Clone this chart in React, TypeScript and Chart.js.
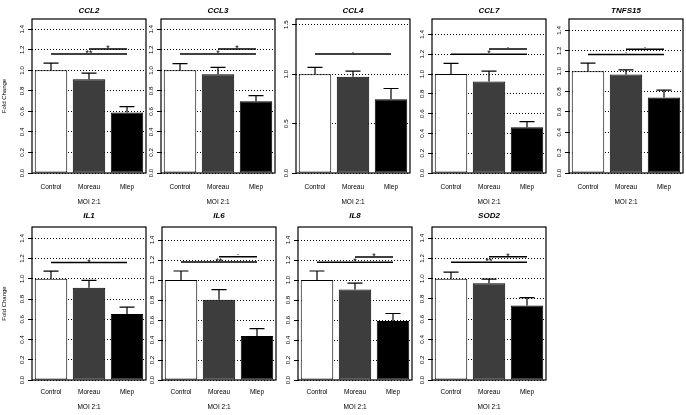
import React, { useEffect, useRef } from "react";
import { Chart, registerables } from "chart.js";

Chart.register(...registerables);
Chart.defaults.font.family = '"Liberation Sans", Arial, sans-serif';
Chart.defaults.color = "#000";

// ---------- data ----------
const genes = ["CCL2", "CCL3", "CCL4", "CCL7", "TNFS15", "IL1", "IL6", "IL8", "SOD2"];
const categories = ["Control", "Moreau", "Mlep"];
const controlMean = [1.0, 1.0, 1.0, 1.0, 1.0, 1.0, 1.0, 1.0, 1.0];
const moreauMean = [0.914, 0.963, 0.973, 0.924, 0.967, 0.911, 0.803, 0.905, 0.956];
const mlepMean = [0.589, 0.699, 0.747, 0.462, 0.741, 0.652, 0.44, 0.589, 0.736];
const controlSE = [0.07, 0.065, 0.068, 0.107, 0.079, 0.075, 0.09, 0.09, 0.065];
const moreauSE = [0.058, 0.065, 0.057, 0.106, 0.046, 0.073, 0.1, 0.063, 0.04];
const mlepSE = [0.058, 0.055, 0.108, 0.058, 0.072, 0.069, 0.073, 0.076, 0.076];
const yMax = [1.5, 1.5, 1.558, 1.556, 1.512, 1.512, 1.53, 1.53, 1.51];
const yStep = [0.2, 0.2, 0.5, 0.2, 0.2, 0.2, 0.2, 0.2, 0.2];
// Control vs Mlep comparison (height, label)
const sigCtrlY = [1.158, 1.158, 1.203, 1.2, 1.164, 1.161, 1.18, 1.177, 1.163];
const sigCtrlLabel = ["**", "*", ".", "*", ".", "*", "**", "*", "**"];
// Moreau vs Mlep comparison (height, label)
const sigMorY = [1.207, 1.207, null, 1.252, 1.216, null, 1.233, 1.23, 1.216];
const sigMorLabel = ["*", "*", "", ".", ".", "", ".", "*", "*"];
const xTitle = "MOI 2:1";
const yTitle = "Fold Change";

// ---------- layout ----------
const PANEL_LEFT = [32, 161, 296, 432, 569, 32, 162, 298, 432];
const PANEL_W = 114;
const RIGHT_PAD = 4;
const ROWS = [
  { top: 0, height: 208, areaTop: 19, areaBottom: 173, titleY: 10.3, labelY: 187.3, moiY: 202 },
  { top: 207, height: 208, areaTop: 227, areaBottom: 380, titleY: 216.2, labelY: 392.3, moiY: 407 },
];
const BAR_COLORS = ["#ffffff", "#3d3d3d", "#000000"];
const CAP = 7.5;
const TICK_FONT = 6.2;
const NAME_FONT = 6.5;
const MOI_FONT = 6.5;
const YTITLE_FONT = 6;

function Panel({ idx }: { idx: number }) {
  const ref = useRef<HTMLCanvasElement>(null);
  const row = idx < 5 ? ROWS[0] : ROWS[1];
  const firstCol = idx === 0 || idx === 5;
  const axisW = firstCol ? 32 : 22;
  const left = PANEL_LEFT[idx] - axisW;
  const width = axisW + PANEL_W + RIGHT_PAD;
  const height = row.height;

  useEffect(() => {
    if (!ref.current) return;
    const means = [controlMean[idx], moreauMean[idx], mlepMean[idx]];
    const ses = [controlSE[idx], moreauSE[idx], mlepSE[idx]];
    const xAxisH = row.top + row.height - row.areaBottom;
    const labelPad = row.labelY - row.areaBottom - (NAME_FONT * 1.2) / 2;
    const moiPad = row.top + row.height - row.moiY - (MOI_FONT * 1.2) / 2;

    const drawSig = (ctx: CanvasRenderingContext2D, x: any, y: any, a: number, b: number, v: number, label: string) => {
      const x0 = x.getPixelForValue(a);
      const x1 = x.getPixelForValue(b);
      const py = y.getPixelForValue(v);
      ctx.lineWidth = 1.5;
      ctx.beginPath();
      ctx.moveTo(x0, py);
      ctx.lineTo(x1, py);
      ctx.stroke();
      ctx.font = '9px "Liberation Sans", Arial, sans-serif';
      ctx.textAlign = "center";
      ctx.textBaseline = "alphabetic";
      const m = ctx.measureText(label);
      const asc = m.actualBoundingBoxAscent;
      const desc = m.actualBoundingBoxDescent;
      const center = py - 2;
      ctx.fillText(label, (x0 + x1) / 2, center + (asc - desc) / 2);
    };

    const decor = {
      id: "decor",
      afterDatasetsDraw(chart: any) {
        const { ctx, chartArea: a, scales } = chart;
        const x = scales.x;
        const y = scales.y;
        ctx.save();
        ctx.strokeStyle = "#000";
        ctx.fillStyle = "#000";
        // error bars
        ctx.lineWidth = 1.2;
        means.forEach((m, i) => {
          const px = x.getPixelForValue(i);
          const y0 = y.getPixelForValue(m);
          const y1 = y.getPixelForValue(m + ses[i]);
          ctx.beginPath();
          ctx.moveTo(px, y0);
          ctx.lineTo(px, y1);
          ctx.moveTo(px - CAP, y1);
          ctx.lineTo(px + CAP, y1);
          ctx.stroke();
        });
        // frame
        ctx.lineWidth = 1.2;
        ctx.strokeRect(a.left, a.top, a.right - a.left, a.bottom - a.top);
        // significance lines
        drawSig(ctx, x, y, 0, 2, sigCtrlY[idx], sigCtrlLabel[idx]);
        const my = sigMorY[idx];
        if (my !== null) drawSig(ctx, x, y, 1, 2, my, sigMorLabel[idx]);
        // panel title
        ctx.font = 'italic bold 8px "Liberation Sans", Arial, sans-serif';
        ctx.textAlign = "center";
        ctx.textBaseline = "middle";
        ctx.fillText(genes[idx], (a.left + a.right) / 2, row.titleY - row.top);
        ctx.restore();
      },
    };

    const chart = new Chart(ref.current, {
      type: "bar",
      data: {
        labels: categories,
        datasets: [
          {
            data: means,
            backgroundColor: BAR_COLORS,
            borderColor: "#000",
            borderWidth: 1,
            borderSkipped: false,
            barPercentage: 0.855,
            categoryPercentage: 1,
          },
        ],
      },
      options: {
        responsive: false,
        maintainAspectRatio: false,
        animation: false,
        devicePixelRatio: 1,
        events: [],
        layout: { padding: { top: row.areaTop - row.top, right: RIGHT_PAD, bottom: 0, left: 0 } },
        plugins: {
          legend: { display: false },
          tooltip: { enabled: false },
          title: { display: false },
        },
        scales: {
          x: {
            type: "category",
            offset: true,
            grid: { display: false, drawTicks: false },
            border: { display: false },
            ticks: {
              font: { size: NAME_FONT },
              color: "#000",
              padding: labelPad,
              maxRotation: 0,
              autoSkip: false,
            },
            title: {
              display: true,
              text: xTitle,
              font: { size: MOI_FONT },
              color: "#000",
              padding: { top: 0, bottom: moiPad },
            },
            afterFit: (s: any) => {
              s.height = xAxisH;
            },
          },
          y: {
            type: "linear",
            min: 0,
            max: yMax[idx],
            grid: {
              color: "#000",
              lineWidth: 1,
              borderDash: [1, 2],
              drawTicks: true,
              tickLength: 4,
              tickColor: "#000",
              tickWidth: 1,
              tickBorderDash: [],
            },
            border: { display: false, dash: [1, 2] },
            ticks: {
              stepSize: yStep[idx],
              includeBounds: false,
              font: { size: TICK_FONT },
              color: "#000",
              minRotation: 90,
              maxRotation: 90,
              crossAlign: "center",
              padding: 1.5,
              callback: (v: any) => Number(v).toFixed(1),
            },
            title: {
              display: firstCol,
              text: yTitle,
              font: { size: YTITLE_FONT },
              color: "#000",
              padding: { top: 1, bottom: 0 },
            },
            afterFit: (s: any) => {
              s.width = axisW;
            },
          },
        },
      },
      plugins: [decor],
    } as any);
    return () => chart.destroy();
  }, []);

  return (
    <canvas
      ref={ref}
      width={width}
      height={height}
      style={{ position: "absolute", left, top: row.top, width, height }}
    />
  );
}

export default function App() {
  return (
    <div
      style={{
        position: "fixed",
        left: 0,
        top: 0,
        width: 686,
        height: 415,
        background: "#fff",
        overflow: "hidden",
      }}
    >
      {genes.map((g, i) => (
        <Panel key={g} idx={i} />
      ))}
    </div>
  );
}
